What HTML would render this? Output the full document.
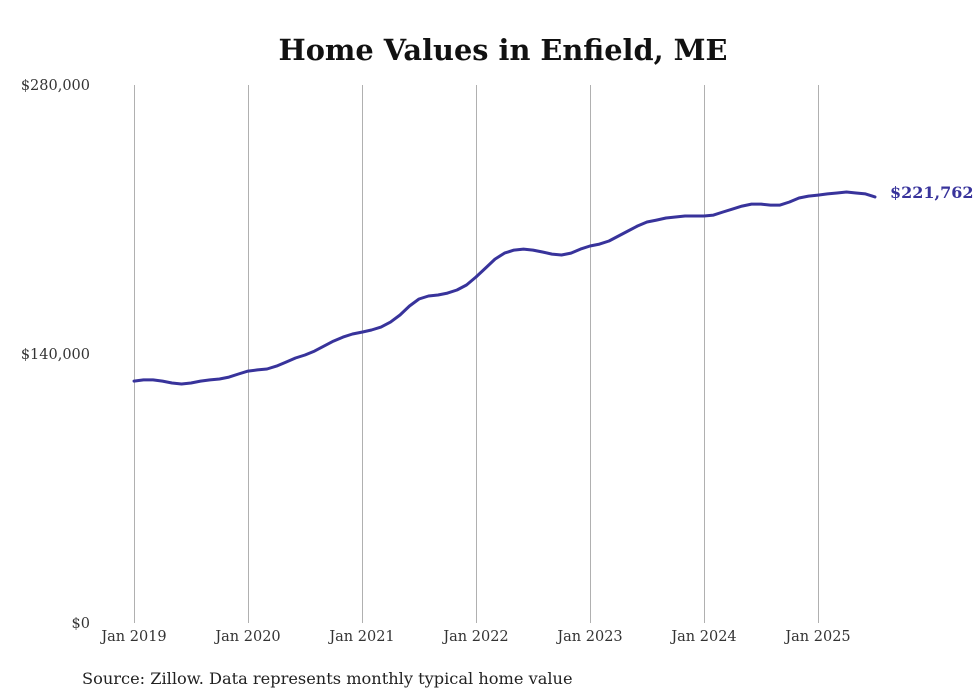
<!DOCTYPE html>
<html><head><meta charset="utf-8"><style>
body{margin:0;background:#fff;}
svg{display:block;font-family:"DejaVu Serif","Liberation Serif",serif;}
</style></head><body>
<svg id="chart" width="980" height="699">
<text x="503" y="60" text-anchor="middle" font-size="28.8" font-weight="bold" fill="#111">Home Values in Enfield, ME</text>
<g id="grid"></g><g id="yaxis"></g><g id="xaxis"></g><g id="series"></g>
<text x="82" y="684" font-size="16.2" fill="#222">Source: Zillow. Data represents monthly typical home value</text>
</svg>
<script>
const yTicks=[0,140000,280000];
const yTickLabels=["$0","$140,000","$280,000"];
const xTickLabels=["Jan 2019","Jan 2020","Jan 2021","Jan 2022","Jan 2023","Jan 2024","Jan 2025"];
const startYear=2019;
const values=[125.9,126.5,126.5,125.9,124.9,124.4,124.9,125.9,126.5,127.0,128.0,129.6,
131.1,131.7,132.2,133.7,135.8,137.9,139.5,141.5,144.1,146.7,148.8,150.4,
151.4,152.5,154.0,156.6,160.3,165.0,168.6,170.2,170.7,171.7,173.3,175.9,
180.1,184.7,189.4,192.5,194.1,194.6,194.1,193.1,192.0,191.5,192.5,194.6,
196.2,197.2,198.8,201.4,204.0,206.6,208.7,209.7,210.8,211.3,211.8,211.8,
211.8,212.3,213.9,215.4,217.0,218.0,218.0,217.5,217.5,219.1,221.2,222.2,
222.7,223.3,223.8,224.3,223.8,223.3,221.762].map(v=>v*1000);
const finalLabel="$221,762";
const NS="http://www.w3.org/2000/svg";
const x0=134,pxPerMonth=9.5,yBase=623,yTop=85,yMax=280000;
const xs=i=>x0+i*pxPerMonth;
const ys=v=>yBase-(v/yMax)*(yBase-yTop);
function mk(tag,attrs,parent){const e=document.createElementNS(NS,tag);for(const k in attrs)e.setAttribute(k,attrs[k]);parent.appendChild(e);return e;}
const grid=document.getElementById('grid'),ya=document.getElementById('yaxis'),xa=document.getElementById('xaxis'),se=document.getElementById('series');
xTickLabels.forEach((l,i)=>{
 const x=xs(i*12);
 const gx=Math.round(x)+0.5;
 const g=mk('line',{x1:gx,x2:gx,y1:yTop,y2:yBase,stroke:'#b0b0b0','stroke-width':1},grid);
 
 
 const t=mk('text',{x:x,y:641,'text-anchor':'middle','font-size':14.5,fill:'#333'},xa);
 t.textContent=l;
 
 
});
yTicks.forEach((v,i)=>{
 const t=mk('text',{x:90,y:ys(v)+5,'text-anchor':'end','font-size':14.5,fill:'#333'},ya);
 t.textContent=yTickLabels[i];
 
 
});
const d=values.map((v,i)=>(i?'L':'M')+xs(i).toFixed(1)+','+ys(v).toFixed(1)).join('');
const p=mk('path',{d:d,fill:'none',stroke:'#38339b','stroke-width':3,'stroke-linejoin':'round','stroke-linecap':'round'},se);


const li=values.length-1;
const lt=mk('text',{x:xs(li)+15,y:ys(values[li])+1,'font-size':16,'font-weight':'bold',fill:'#38339b'},se);
lt.textContent=finalLabel;


</script>
</body></html>
